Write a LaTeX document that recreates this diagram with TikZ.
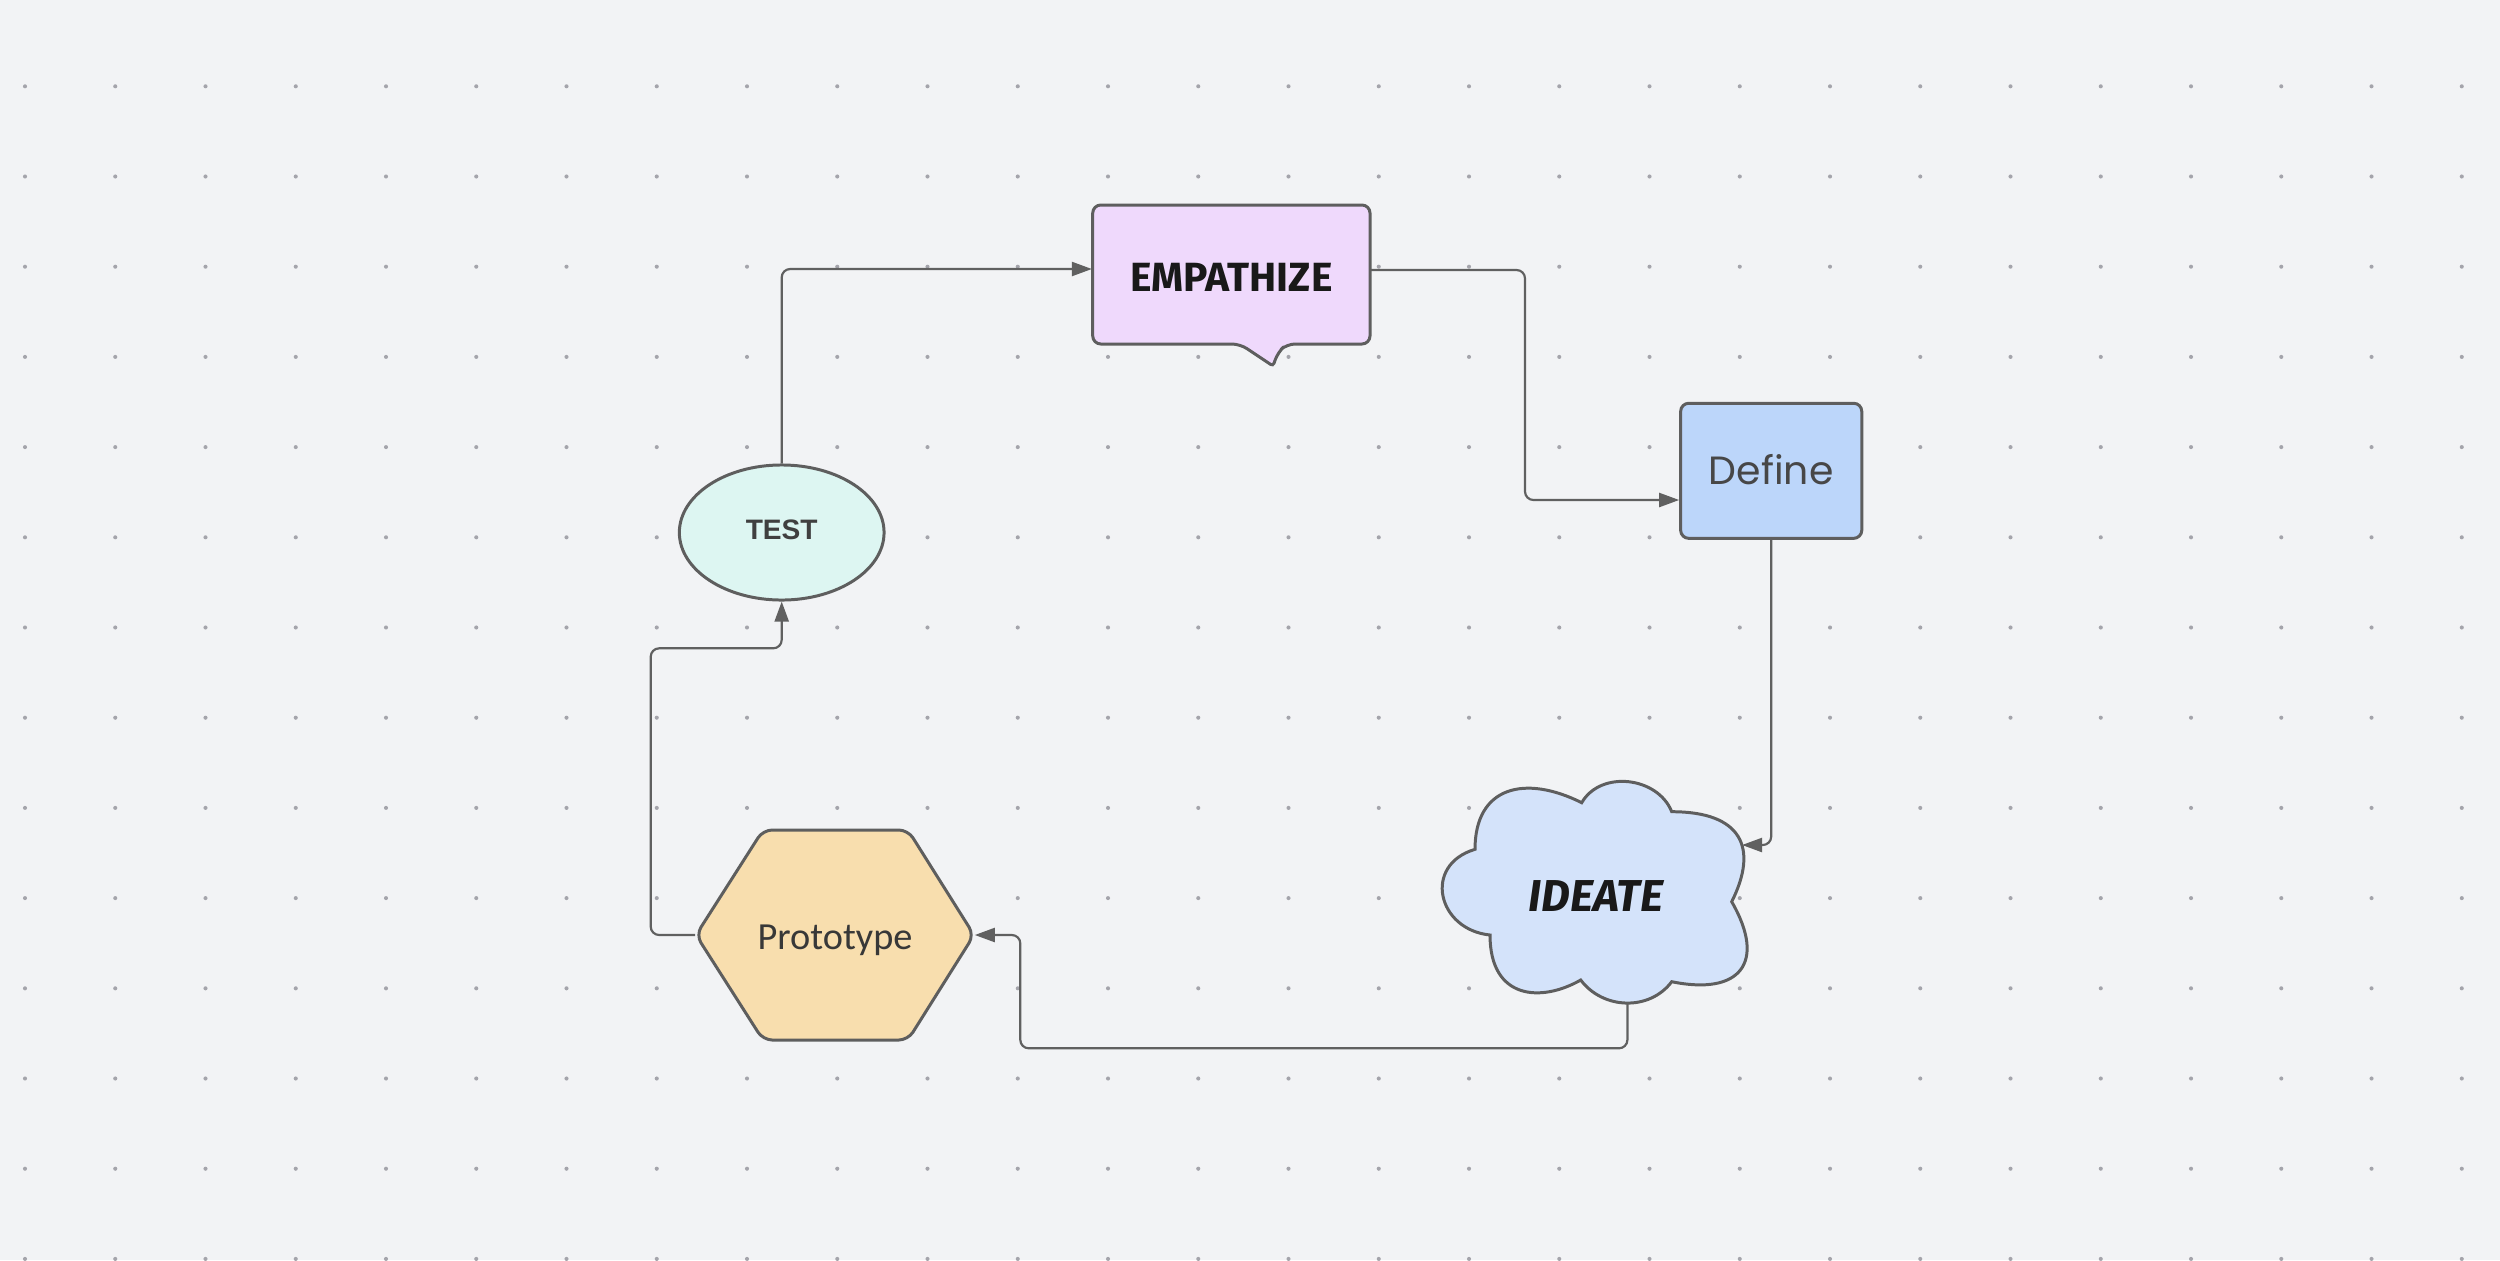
\documentclass[tikz,border=0pt]{standalone}
\usepackage{fontspec}
\usetikzlibrary{arrows.meta,shapes.geometric,calc}
\newfontfamily\fempa{Fira Sans}
\newfontfamily\fdef{Poppins}
\newfontfamily\fproto{Carlito}
\newfontfamily\ftest{Liberation Sans}
\definecolor{bgc}{HTML}{F2F3F5}
\definecolor{dotc}{HTML}{A4A4AB}
\definecolor{edgec}{HTML}{5E5E5E}
\definecolor{linec}{HTML}{606060}
\definecolor{empf}{HTML}{EFD9FC}
\definecolor{deff}{HTML}{BCD6FA}
\definecolor{ideaf}{HTML}{D4E3FA}
\definecolor{protof}{HTML}{F8DEAE}
\definecolor{testf}{HTML}{DDF6F2}
\tikzset{
  shapeline/.style={draw=edgec, line width=0.85pt},
  conn/.style={draw=linec, line width=0.62pt, rounded corners=2.4pt, -{Triangle[length=5.7pt,width=4pt]}},
  txt/.style={inner sep=0pt, align=center}
}
\begin{document}
\begin{tikzpicture}[x=0.01cm,y=-0.01cm]
\fill[bgc] (0,0) rectangle (2500,1260);
\useasboundingbox (0,0) rectangle (2500,1260);
\foreach \i in {0,...,27}{
  \foreach \j in {0,...,13}{
    \fill[dotc] ({25+90.25*\i},{86.3+90.2*\j}) circle (0.58pt);
  }
}
% EMPATHIZE callout
\draw[shapeline, fill=empf, rounded corners=2.3pt]
  (1231,205) -- (1370,205) -- (1370,344) -- (1287,344) -- (1278,352)
  [rounded corners=0.8pt] -- (1273,366) [rounded corners=2.3pt] -- (1240,344) -- (1092.7,344) -- (1092.7,205) -- cycle;
\node[txt, minimum width=2.773cm, minimum height=1.39cm, text height=11pt, text depth=1.25pt] (emp) at (1231.3,274.5)
  {\fempa\bfseries\fontsize{11.6pt}{13pt}\selectfont\color{black!90}EMPATHIZE};
% Define
\node[shapeline, fill=deff, rounded corners=2.3pt, minimum width=1.81cm, minimum height=1.35cm, inner sep=0pt, text height=9pt, text depth=1pt] (def) at (1771.2,470.8)
  {\fdef\fontsize{11.2pt}{13pt}\selectfont\color{black!72}Define};
% IDEATE cloud
\draw[shapeline, fill=ideaf]
  (1475,849.3) .. controls (1422.3,865) and (1437.3,929.7) .. (1490,935)
  .. controls (1490,1000) and (1541.5,1002.5) .. (1580.7,980)
  .. controls (1602.9,1009.6) and (1649.5,1011.3) .. (1671.7,981.7)
  .. controls (1740.3,995.7) and (1766.7,962.6) .. (1731.7,901.7)
  .. controls (1758.7,847.7) and (1741.7,811.7) .. (1671.7,811.7)
  .. controls (1657.7,776.6) and (1600.6,769.8) .. (1581.7,802.7)
  .. controls (1525,774.3) and (1475,786.3) .. (1475,849.3) -- cycle;
\node[txt, anchor=base] (idea) at (1596,911.7)
  {\fempa\bfseries\itshape\fontsize{12.7pt}{14pt}\selectfont\color{black!90}IDEATE};
\coordinate (ideaE) at (1742,845);
\coordinate (ideaS) at (1627.4,1002);
% Prototype hexagon
\draw[shapeline, fill=protof, rounded corners=2.6pt]
  (835.5,830) -- (908,830) -- (974,935) -- (908,1040) -- (763,1040) -- (696,935) -- (763,830) -- cycle;
\node[txt, minimum width=2.78cm, minimum height=2.1cm, text height=10pt, text depth=1.5pt] (proto) at (835,935)
  {\fproto\fontsize{10.9pt}{13pt}\selectfont\color{black!78}Prototype};
% TEST ellipse
\node[ellipse, shapeline, fill=testf, minimum width=2.046cm, minimum height=1.35cm, inner sep=0pt, text height=5.6pt, text depth=1.35pt] (test) at (781.7,532.5)
  {\ftest\bfseries\fontsize{8pt}{10pt}\selectfont\color{black!75}TEST};
% connectors
\draw[conn] (test.north) |- ($(emp.west)+(0,-5.5)$);
\draw[conn] ($(emp.east)+(0,-4.5)$) -| (1525,500) -- ($(def.west)+(0,29.2)$);
\draw[conn] (def.south) |- (ideaE);
\draw[conn] (ideaS) |- (1020.3,1048.3) |- (proto.east);
\draw[conn] (proto.west) -| (650.7,648.3) -| (test.south);
\end{tikzpicture}
\end{document}
